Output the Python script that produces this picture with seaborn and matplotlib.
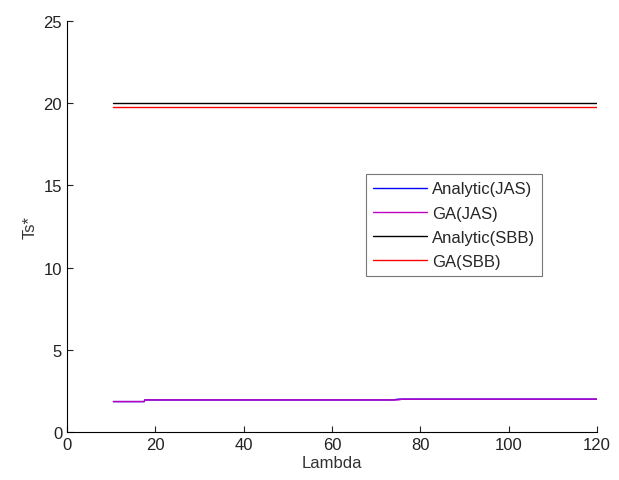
import matplotlib
matplotlib.use("Agg")
import matplotlib.pyplot as plt
import seaborn as sns
import pandas as pd

lam = [10.5, 17.5, 17.6, 30, 50, 74, 75, 76, 100, 120]
analytic_jas = [1.85, 1.85, 1.95, 1.95, 1.95, 1.95, 2.0, 2.0, 2.0, 2.0]
ga_jas = [1.85, 1.85, 1.95, 1.95, 1.95, 1.95, 1.95, 2.0, 2.0, 2.0]
analytic_sbb = [20.0] * len(lam)
ga_sbb = [19.75] * len(lam)

series = {
    "Analytic(JAS)": analytic_jas,
    "GA(JAS)": ga_jas,
    "Analytic(SBB)": analytic_sbb,
    "GA(SBB)": ga_sbb,
}
colors = ["#0000ff", "#bf00bf", "#000000", "#ff0000"]

rows = []
for name, vals in series.items():
    for x, y in zip(lam, vals):
        rows.append({"Lambda": x, "Ts": y, "series": name})
df = pd.DataFrame(rows)

sns.set_style("white")
plt.rcParams["font.family"] = ["Liberation Sans", "DejaVu Sans"]

fig = plt.figure(figsize=(6.19, 4.81), dpi=100)
ax = fig.add_axes([67 / 619, 48 / 481, 530 / 619, 411 / 481])

sns.lineplot(data=df, x="Lambda", y="Ts", hue="series", palette=colors,
             hue_order=list(series.keys()), ax=ax, linewidth=1.0,
             estimator=None, sort=False)

ax.set_xlim(0, 120)
ax.set_ylim(0, 25)
ax.set_xticks([0, 20, 40, 60, 80, 100, 120])
ax.set_yticks([0, 5, 10, 15, 20, 25])
ax.set_xlabel("Lambda", fontsize=12, color="#333333", labelpad=2)
ax.set_ylabel("Ts*", fontsize=12, color="#333333")
ax.tick_params(direction="in", length=4, labelsize=12, colors="#222222",
               left=True, bottom=True)
for s in ["top", "right"]:
    ax.spines[s].set_visible(False)
for s in ["left", "bottom"]:
    ax.spines[s].set_color("black")
    ax.spines[s].set_linewidth(0.8)

leg = ax.legend(loc="upper left", bbox_to_anchor=(0.564, 0.628), fontsize=12,
                frameon=True, fancybox=False, edgecolor="#555555",
                handlelength=3.2, borderpad=0.45, labelspacing=0.55,
                handletextpad=0.3, borderaxespad=0)
leg.get_frame().set_linewidth(0.8)

fig.savefig("out.png", dpi=100)
